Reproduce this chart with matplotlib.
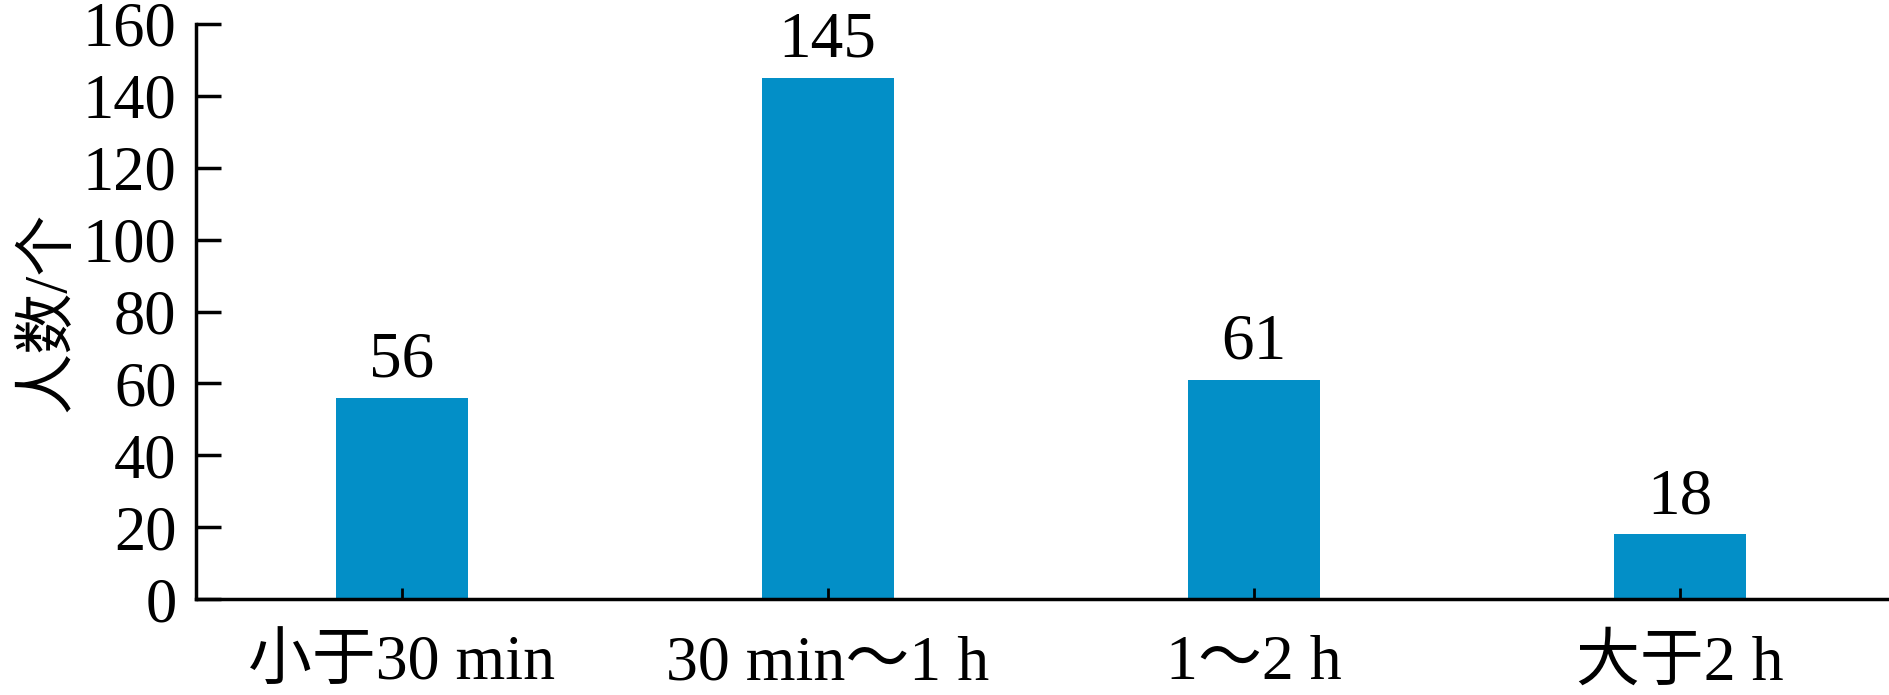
import matplotlib.pyplot as plt

plt.rcParams['font.family'] = ['Liberation Serif', 'Noto Sans CJK SC']

categories = ['小于30 min', '30 min～1 h', '1～2 h', '大于2 h']
counts = [56, 145, 61, 18]
yticks = [0, 20, 40, 60, 80, 100, 120, 140, 160]

fig = plt.figure(figsize=(18.9, 6.95), dpi=100)
ax = fig.add_axes([0.1037, 0.138, 0.8963, 0.8275])

x = range(len(categories))
bars = ax.bar(x, counts, width=0.31, color='#038FC7')

# numbers above the bars
for b, v in zip(bars, counts):
    ax.text(b.get_x() + b.get_width() / 2, v + 2, str(v),
            ha='center', va='bottom', fontsize=47)

ax.set_xlim(-0.483, 3.494)
ax.set_ylim(0, 160)
ax.set_yticks(yticks)
ax.set_xticks(list(x))
ax.set_xticklabels(categories)

ax.spines['top'].set_visible(False)
ax.spines['right'].set_visible(False)
for s in ['left', 'bottom']:
    ax.spines[s].set_linewidth(2.5)

ax.tick_params(axis='y', direction='in', length=18, width=2.5, labelsize=45, pad=14)
ax.tick_params(axis='x', direction='in', length=8, width=2, labelsize=46, pad=26)
ax.set_ylabel('人数/个', fontsize=44, labelpad=4)

fig.savefig('out.png', dpi=100)
